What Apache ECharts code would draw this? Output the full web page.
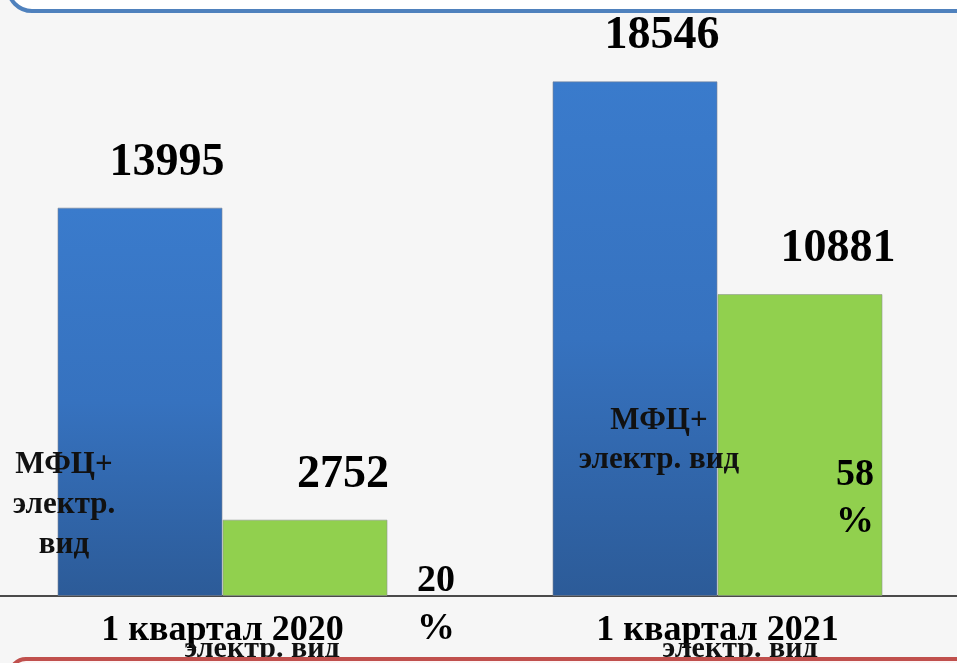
<!DOCTYPE html>
<html>
<head>
<meta charset="utf-8">
<script src="https://cdn.jsdelivr.net/npm/echarts@6/dist/echarts.min.js"></script>
<style>
  html, body { margin: 0; padding: 0; background: #f6f6f6; }
  #chart { width: 957px; height: 663px; }
</style>
</head>
<body>
<div id="chart"></div>
<script>
var categories = ["1 квартал 2020", "1 квартал 2021"];
var totalVals = [13995, 18546];
var electrVals = [2752, 10881];
var percentVals = [20, 58];
var seriesNames = ["МФЦ+ электр. вид", "электр. вид"];

var serif = "'Liberation Serif', 'Times New Roman', serif";

var myChart = echarts.init(document.getElementById("chart"));

myChart.setOption({
  backgroundColor: "#f6f6f6",
  animation: false,
  grid: {
    left: -25,
    width: 990,
    top: 41,
    bottom: 67,
    containLabel: false,
    outerBoundsMode: "none",
  },
  xAxis: {
    type: "category",
    data: categories,
    axisLine: { lineStyle: { color: "#4a4a4a", width: 2 } },
    axisTick: { show: false },
    axisLabel: {
      color: "#000",
      fontFamily: serif,
      fontWeight: "bold",
      fontSize: 36,
      margin: 17,
    },
  },
  yAxis: {
    type: "value",
    min: 0,
    max: 20000,
    show: false,
    splitLine: { show: false },
  },
  series: [
    {
      name: seriesNames[0],
      type: "bar",
      data: totalVals,
      barWidth: 165,
      barGap: "0%",
      itemStyle: {
        borderColor: "rgba(120,130,150,0.6)",
        borderWidth: 1,
        color: new echarts.graphic.LinearGradient(0, 0, 0, 1, [
          { offset: 0, color: "#3a7bcc" },
          { offset: 0.5, color: "#3672bf" },
          { offset: 1, color: "#2c5b98" },
        ]),
      },
      label: {
        show: true,
        position: "top",
        distance: 22,
        offset: [27, 0],
        color: "#000",
        fontFamily: serif,
        fontWeight: "bold",
        fontSize: 46,
      },
    },
    {
      name: seriesNames[1],
      type: "bar",
      data: electrVals,
      barWidth: 165,
      itemStyle: {
        color: "#91d04e",
        borderColor: "rgba(140,150,140,0.6)",
        borderWidth: 1,
      },
      label: {
        show: true,
        position: "top",
        distance: 22,
        offset: [38, 0],
        color: "#000",
        fontFamily: serif,
        fontWeight: "bold",
        fontSize: 46,
      },
    },
  ],
  graphic: [
    // верхняя синяя рамка
    {
      type: "rect",
      shape: { x: 8, y: -80, width: 980, height: 91, r: 24 },
      style: { fill: "#ffffff", stroke: "#4f81bd", lineWidth: 4 },
      z: 10,
    },
    // подписи "МФЦ+ электр. вид"
    {
      type: "text",
      x: 64, y: 505,
      style: {
        text: "МФЦ+\nэлектр.\nвид",
        font: "bold 31px " + serif,
        fill: "#111",
        align: "center",
        verticalAlign: "middle",
        lineHeight: 40,
      },
      z: 20,
    },
    {
      type: "text",
      x: 659, y: 440,
      style: {
        text: "МФЦ+\n" + seriesNames[1],
        font: "bold 31px " + serif,
        fill: "#111",
        align: "center",
        verticalAlign: "middle",
        lineHeight: 39,
      },
      z: 20,
    },
    // проценты
    {
      type: "text",
      x: 436, y: 605,
      style: {
        text: percentVals[0] + "\n%",
        font: "bold 38px " + serif,
        fill: "#000",
        align: "center",
        verticalAlign: "middle",
        lineHeight: 48,
      },
      z: 20,
    },
    {
      type: "text",
      x: 855, y: 499,
      style: {
        text: percentVals[1] + "\n%",
        font: "bold 38px " + serif,
        fill: "#000",
        align: "center",
        verticalAlign: "middle",
        lineHeight: 47,
      },
      z: 20,
    },
    // нижние обрезанные подписи
    {
      type: "text",
      x: 262, y: 649,
      style: {
        text: seriesNames[1],
        font: "bold 30px " + serif,
        fill: "#111",
        align: "center",
        verticalAlign: "middle",
      },
      z: 15,
    },
    {
      type: "text",
      x: 740, y: 649,
      style: {
        text: seriesNames[1],
        font: "bold 30px " + serif,
        fill: "#111",
        align: "center",
        verticalAlign: "middle",
      },
      z: 15,
    },
    // нижняя красная рамка
    {
      type: "rect",
      shape: { x: 10, y: 659, width: 980, height: 80, r: 16 },
      style: { fill: "#fdf6f6", stroke: "#c0504d", lineWidth: 4 },
      z: 30,
    },
  ],
});
</script>
</body>
</html>
